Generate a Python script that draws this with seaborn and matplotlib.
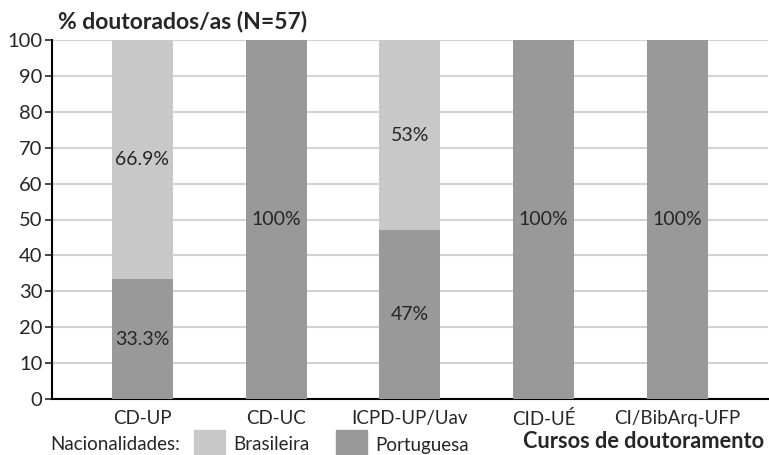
import matplotlib
matplotlib.use('Agg')
import matplotlib.pyplot as plt
import seaborn as sns
import pandas as pd
from matplotlib.patches import Rectangle

# Data
cursos = ['CD-UP', 'CD-UC', 'ICPD-UP/Uav', 'CID-UÉ', 'CI/BibArq-UFP']
portuguesa = [33.3, 100, 47, 100, 100]
brasileira = [66.9, 0, 53, 0, 0]
y_ticks = list(range(0, 101, 10))

light = '#c8c8c8'
dark = '#999999'

sns.set_style('white')
plt.rcParams['font.family'] = ['Lato', 'DejaVu Sans']

df = pd.DataFrame({'curso': cursos, 'Portuguesa': portuguesa, 'Brasileira': brasileira})
df['total'] = df['Portuguesa'] + df['Brasileira']

W, H = 769, 455
fig = plt.figure(figsize=(W / 100, H / 100), dpi=100)
ax = fig.add_axes([52 / W, (H - 399) / H, (768 - 52) / W, (399 - 40) / H])

ax.grid(axis='y', color='#d3d3d3', linewidth=1.5, zorder=0)
ax.set_axisbelow(True)

sns.barplot(data=df, x='curso', y='total', color=light, width=0.457,
            saturation=1, linewidth=0, ax=ax, zorder=2)
sns.barplot(data=df, x='curso', y='Portuguesa', color=dark, width=0.457,
            saturation=1, linewidth=0, ax=ax, zorder=3)

# value labels in the middle of each segment
for i, (p, b) in enumerate(zip(portuguesa, brasileira)):
    if p > 0:
        ax.text(i, p / 2, f'{p:g}%', ha='center', va='center', fontsize=14, zorder=4)
    if b > 0:
        ax.text(i, p + (100 - p) / 2, f'{b:g}%', ha='center', va='center', fontsize=14, zorder=4)

ax.set_ylim(0, 100)
ax.set_xlim(-0.677, 4.68)
ax.set_yticks(y_ticks)
ax.tick_params(axis='y', left=True, length=5, width=1.2, labelsize=14.5, pad=2)
ax.tick_params(axis='x', bottom=False, labelsize=13.5, pad=4.5)
ax.set_xlabel('')
ax.set_ylabel('')

for s in ['top', 'right']:
    ax.spines[s].set_visible(False)
for s in ['left', 'bottom']:
    ax.spines[s].set_linewidth(1.5)
    ax.spines[s].set_color('black')

fig.text(58 / W, 1 - 22 / H, '% doutorados/as (N=57)', fontsize=16.5, fontweight='bold', va='center')
fig.text(764 / W, 1 - 442 / H, 'Cursos de doutoramento', fontsize=15.7, fontweight='bold',
         ha='right', va='center')

# legend
ty = 1 - 445 / H
fig.text(50 / W, ty, 'Nacionalidades:', fontsize=13.5, va='center')
fig.patches.append(Rectangle((194 / W, 0), 31 / W, 25 / H, transform=fig.transFigure,
                             color=light, figure=fig))
fig.text(233 / W, ty, 'Brasileira', fontsize=13.5, va='center')
fig.patches.append(Rectangle((336 / W, 0), 31 / W, 25 / H, transform=fig.transFigure,
                             color=dark, figure=fig))
fig.text(375 / W, ty, 'Portuguesa', fontsize=13.5, va='center')

fig.savefig('out.png', dpi=100)
